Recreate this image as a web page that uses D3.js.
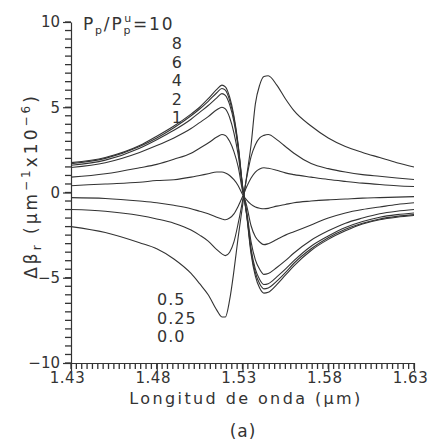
<!DOCTYPE html>
<html>
<head>
<meta charset="utf-8">
<script src="https://cdn.jsdelivr.net/npm/d3@7"></script>
<style>
  body { margin: 0; background: #fff; }
  svg text { font-family: "DejaVu Sans", sans-serif; fill: #333; }
</style>
</head>
<body>
<div id="chart"></div>
<script>
// wavelength grid (um) shared by all curves
const wavelengths = [1.43, 1.45, 1.47, 1.48, 1.49, 1.50, 1.505, 1.51, 1.515, 1.518, 1.52, 1.5225, 1.525, 1.5275, 1.53,
  1.5325, 1.535, 1.5375, 1.54, 1.5425, 1.545, 1.55, 1.555, 1.56, 1.57, 1.58, 1.59, 1.60, 1.61, 1.62, 1.63];

// delta beta_r (x1e-6 um^-1) for each pump ratio Pp/Pp^u
const p10 = [1.75, 2.05, 2.75, 3.3, 3.9, 4.6, 5.0, 5.5, 6.05, 6.3, 6.2, 5.6, 4.5, 2.8, 0.4,
  -1.4, -3.6, -4.9, -5.6, -5.9, -5.85, -5.4, -4.85, -4.3, -3.4, -2.75, -2.25, -1.85, -1.6, -1.45, -1.35];
const p8 = [1.69, 2.0, 2.7, 3.2, 3.8, 4.5, 4.9, 5.35, 5.85, 6.1, 6.0, 5.4, 4.35, 2.7, 0.4,
  -1.35, -3.45, -4.7, -5.35, -5.65, -5.6, -5.2, -4.7, -4.15, -3.3, -2.65, -2.15, -1.8, -1.55, -1.4, -1.3];
const p6 = [1.6, 1.9, 2.6, 3.1, 3.65, 4.3, 4.7, 5.1, 5.55, 5.8, 5.7, 5.15, 4.15, 2.6, 0.35,
  -1.3, -3.3, -4.5, -5.1, -5.4, -5.35, -4.95, -4.5, -4.0, -3.15, -2.55, -2.05, -1.7, -1.45, -1.3, -1.2];
const p4 = [1.47, 1.75, 2.35, 2.75, 3.2, 3.75, 4.1, 4.45, 4.85, 5.0, 4.9, 4.4, 3.5, 2.2, 0.3,
  -1.15, -2.9, -3.95, -4.5, -4.8, -4.75, -4.4, -4.0, -3.55, -2.8, -2.25, -1.8, -1.5, -1.25, -1.1, -1.0];
const p2 = [0.9, 1.1, 1.45, 1.65, 1.95, 2.3, 2.6, 2.9, 3.25, 3.4, 3.35, 3.0, 2.4, 1.5, 0.1,
  -0.8, -1.95, -2.6, -2.9, -3.06, -3.0, -2.75, -2.5, -2.3, -1.9, -1.5, -1.2, -1.0, -0.85, -0.7, -0.6];
const p1 = [0.4, 0.5, 0.6, 0.7, 0.75, 0.9, 1.0, 1.1, 1.2, 1.2, 1.15, 1.0, 0.75, 0.4, -0.1,
  -0.45, -0.7, -0.85, -0.92, -0.95, -0.93, -0.8, -0.7, -0.6, -0.5, -0.43, -0.38, -0.33, -0.3, -0.27, -0.24];
const p05 = [-0.3, -0.35, -0.5, -0.6, -0.75, -0.95, -1.1, -1.25, -1.45, -1.55, -1.6, -1.5, -1.25, -0.8, -0.25,
  0.35, 0.85, 1.2, 1.38, 1.45, 1.42, 1.3, 1.15, 1.05, 0.9, 0.76, 0.65, 0.55, 0.47, 0.4, 0.35];
const p025 = [-1.0, -1.1, -1.35, -1.55, -1.8, -2.2, -2.5, -2.85, -3.35, -3.6, -3.7, -3.5, -2.9, -1.8, -0.5,
  0.9, 2.1, 2.8, 3.2, 3.35, 3.4, 3.1, 2.7, 2.3, 1.7, 1.4, 1.2, 1.05, 0.95, 0.85, 0.76];
const p00 = [-2.0, -2.35, -2.95, -3.3, -3.9, -4.75, -5.35, -6.0, -6.9, -7.3, -7.3, -6.3, -4.6, -2.6, -0.8,
  1.0, 2.8, 5.2, 6.3, 6.8, 6.85, 6.3, 5.5, 4.8, 3.9, 3.2, 2.7, 2.35, 2.05, 1.75, 1.5];

const series = [p10, p8, p6, p4, p2, p1, p05, p025, p00];

const xTicks = [1.43, 1.48, 1.53, 1.58, 1.63];
const yTicks = [-10, -5, 0, 5, 10];
const upperLabels = ["8", "6", "4", "2", "1"];
const lowerLabels = ["0.5", "0.25", "0.0"];

const W = 432, H = 442;
const ink = "#333";

const svg = d3.select("#chart").append("svg")
  .attr("width", W).attr("height", H)
  .style("background", "#fff");

const x = d3.scaleLinear().domain([1.43, 1.63]).range([71, 414]);
const y = d3.scaleLinear().domain([-10, 10]).range([363, 22]);

// minor tick positions
const xMinor = d3.range(0, 65).map(i => 1.43 + i * 0.2 / 64);
const yMinor = d3.range(-10, 10.01, 0.5);

const minus = d => d < 0 ? "\u2212" + Math.abs(d) : String(d);

function styleAxis(g) {
  g.selectAll("path, line").attr("stroke", ink).attr("stroke-width", 1.2);
  g.selectAll("text").attr("fill", ink).style("font-size", "15px")
    .style("font-family", "'DejaVu Sans', sans-serif");
}

// minor ticks
svg.append("g").selectAll("line")
  .data(xMinor)
  .join("line")
  .attr("x1", d => x(d)).attr("x2", d => x(d))
  .attr("y1", 363).attr("y2", 369)
  .attr("stroke", ink).attr("stroke-width", 1.3);
svg.append("g").selectAll("line")
  .data(yMinor)
  .join("line")
  .attr("x1", 65).attr("x2", 71)
  .attr("y1", d => y(d)).attr("y2", d => y(d))
  .attr("stroke", ink).attr("stroke-width", 1.3);

svg.append("g").attr("transform", "translate(0,363)")
  .call(d3.axisBottom(x).tickValues(xTicks).tickSize(8).tickSizeOuter(0).tickPadding(1)
    .tickFormat(d3.format(".2f")))
  .call(styleAxis)
  .call(g => g.selectAll("text").attr("dx", -4).style("letter-spacing", "0.5px"));

svg.append("g").attr("transform", "translate(71,0)")
  .call(d3.axisLeft(y).tickValues(yTicks).tickSize(8).tickSizeOuter(0).tickPadding(3).tickFormat(minus))
  .call(styleAxis);

// curves
const line = d3.line()
  .x((d, i) => x(wavelengths[i]))
  .y(d => y(d))
  .curve(d3.curveMonotoneX);

svg.append("g").selectAll("path")
  .data(series)
  .join("path")
  .attr("d", line)
  .attr("fill", "none")
  .attr("stroke", ink)
  .attr("stroke-width", 1.1);

// curve labels
const lab = svg.append("text").attr("x", 83).attr("y", 30)
  .style("font-size", "17px").style("letter-spacing", "1.8px");
lab.append("tspan").text("P");
lab.append("tspan").text("p").style("font-size", "11px").attr("dy", 4);
lab.append("tspan").text("/P").attr("dy", -4);
lab.append("tspan").text("p").style("font-size", "11px").attr("dy", 4);
lab.append("tspan").text("u").style("font-size", "11px").attr("dx", -8).attr("dy", -12);
lab.append("tspan").text("=10").attr("dy", 8);

svg.append("g").selectAll("text")
  .data(upperLabels)
  .join("text")
  .attr("x", 182)
  .attr("y", (d, i) => 49 + i * 18.6)
  .attr("text-anchor", "end")
  .style("font-size", "16px")
  .text(d => d);

svg.append("g").selectAll("text")
  .data(lowerLabels)
  .join("text")
  .attr("x", 157)
  .attr("y", (d, i) => 305 + i * 18.5)
  .style("font-size", "16px")
  .style("letter-spacing", "1px")
  .text(d => d);

// axis titles
svg.append("text")
  .attr("x", 246).attr("y", 404)
  .attr("text-anchor", "middle")
  .style("font-size", "16px")
  .style("letter-spacing", "2.4px")
  .text("Longitud de onda (\u03bcm)");

const yt = svg.append("text")
  .attr("transform", "translate(37,186) rotate(-90)")
  .attr("text-anchor", "middle")
  .style("font-size", "17px")
  .style("letter-spacing", "3px");
yt.append("tspan").text("\u0394\u03b2");
yt.append("tspan").text("r").style("font-size", "12px").attr("dy", 4);
yt.append("tspan").text(" (\u03bcm").attr("dy", -4);
yt.append("tspan").text("\u22121").style("font-size", "12px").attr("dy", -7);
yt.append("tspan").text("x10").attr("dy", 7);
yt.append("tspan").text("\u22126").style("font-size", "12px").attr("dy", -7);
yt.append("tspan").text(")").attr("dy", 7);

svg.append("text")
  .attr("x", 243).attr("y", 437)
  .attr("text-anchor", "middle")
  .style("font-size", "17px")
  .style("letter-spacing", "1px")
  .text("(a)");
</script>
</body>
</html>
